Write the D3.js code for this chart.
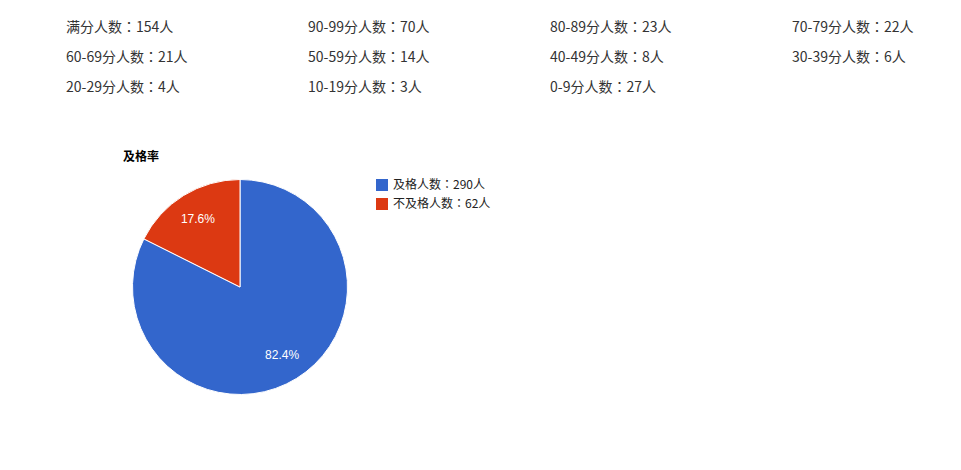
<!DOCTYPE html>
<html>
<head>
<meta charset="utf-8">
<script src="https://cdn.jsdelivr.net/npm/d3@7"></script>
<style>
  html, body { margin: 0; padding: 0; background: #fff; }
  svg { display: block; }
</style>
</head>
<body>
<svg id="chart" width="961" height="470"></svg>
<script>
// Score-band counts
const bandLabels = ["满分", "90-99分", "80-89分", "70-79分", "60-69分", "50-59分", "40-49分", "30-39分", "20-29分", "10-19分", "0-9分"];
const bandCounts = [154, 70, 23, 22, 21, 14, 8, 6, 4, 3, 27];

// Pass / fail summary
const pieLabels = ["及格人数", "不及格人数"];
const pieValues = [290, 62];
const pieColors = ["#3366cc", "#dc3912"];
const chartTitle = "及格率";

const svg = d3.select("#chart");
const cjk = "'Noto Sans CJK SC', 'Microsoft YaHei', sans-serif";
// centred full-width colon
const colonFont = "'Noto Sans CJK TC', 'Noto Sans CJK JP', sans-serif";

function labelText(sel, name, value) {
  sel.append("tspan").text(name + "人数");
  sel.append("tspan").attr("font-family", colonFont).text("：");
  sel.append("tspan").text(value + "人");
}

// Grid of band counts: 4 columns
const colX = d3.scalePoint().domain(d3.range(4)).range([66, 792]);
const rowY = d3.scalePoint().domain(d3.range(3)).range([32, 92]);
svg.append("g").selectAll("text")
  .data(bandLabels.map((l, i) => ({ l, v: bandCounts[i], i })))
  .join("text")
  .attr("x", d => colX(d.i % 4))
  .attr("y", d => rowY(Math.floor(d.i / 4)))
  .attr("font-family", cjk)
  .attr("font-size", 14)
  .attr("fill", "#333")
  .each(function (d) { labelText(d3.select(this), d.l, d.v); });

// Title
svg.append("text")
  .attr("x", 123).attr("y", 161)
  .attr("font-family", cjk)
  .attr("font-size", 12)
  .attr("font-weight", "bold")
  .attr("fill", "#000")
  .text(chartTitle);

// Pie
const cx = 240, cy = 287, r = 107.5;
const total = d3.sum(pieValues);
const pie = d3.pie().sort(null).value(d => d)(pieValues);
const arc = d3.arc().innerRadius(0).outerRadius(r);
const labelArc = d3.arc().innerRadius(r * 0.745).outerRadius(r * 0.745);
const g = svg.append("g").attr("transform", `translate(${cx},${cy})`);
g.selectAll("path").data(pie).join("path")
  .attr("d", arc)
  .attr("fill", (d, i) => pieColors[i])
  .attr("stroke", "#fff")
  .attr("stroke-width", 1);
g.selectAll("text").data(pie).join("text")
  .attr("transform", d => `translate(${labelArc.centroid(d)})`)
  .attr("text-anchor", "middle")
  .attr("dy", "0.35em")
  .attr("font-family", "Arial, 'Liberation Sans', sans-serif")
  .attr("font-size", 12)
  .attr("fill", "#fff")
  .text(d => (d.value / total * 100).toFixed(1) + "%");

// Legend
const legY = d3.scalePoint().domain(d3.range(pieLabels.length)).range([185, 204]);
const leg = svg.append("g").selectAll("g").data(pieLabels).join("g")
  .attr("transform", (d, i) => `translate(376,${legY(i)})`);
leg.append("rect")
  .attr("x", 0).attr("y", -6).attr("width", 12).attr("height", 12)
  .attr("fill", (d, i) => pieColors[i]);
leg.append("text")
  .attr("x", 17).attr("y", 0).attr("dy", "0.35em")
  .attr("font-family", cjk)
  .attr("font-size", 12)
  .attr("fill", "#222")
  .each(function (d, i) { labelText(d3.select(this), d.replace("人数", ""), pieValues[i]); });
</script>
</body>
</html>
